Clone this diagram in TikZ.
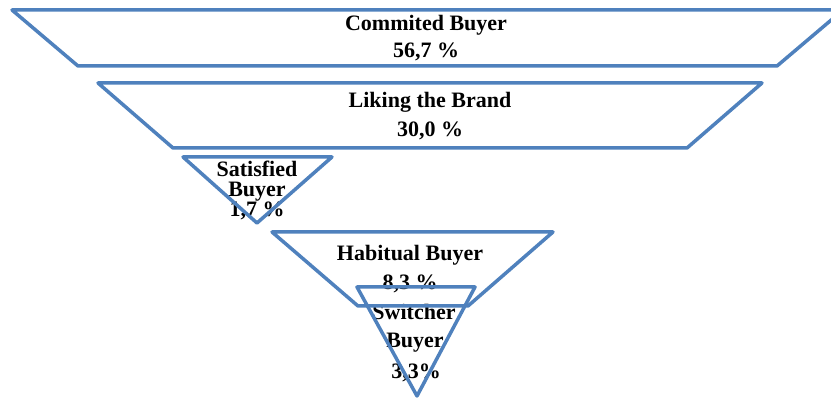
\documentclass[tikz,border=0pt]{standalone}
\usepackage{fontspec}
\setmainfont{Liberation Serif}
\definecolor{ob}{HTML}{4F81BD}
\begin{document}
\begin{tikzpicture}[x=1pt,y=-1pt,
  shp/.style={draw=ob, line width=3.5pt, line join=round},
  lbl/.style={font=\fontsize{22}{22}\selectfont\bfseries, anchor=base, inner sep=0pt}]
\useasboundingbox (0,0) rectangle (831,398);
\clip (0,0) rectangle (831,398);
% texts
\node[lbl] (t1a) at (426,31) {Commited Buyer};
\node[lbl] (t1b) at (426,58) {56,7 \%};
\node[lbl] (t2a) at (430,108) {Liking the Brand};
\node[lbl] (t2b) at (430,137) {30,0 \%};
\node[lbl] (t3a) at (257,177) {Satisfied};
\node[lbl] (t3b) at (257,197) {Buyer};
\node[lbl] (t3c) at (257,217) {1,7 \%};
\node[lbl] (t4a) at (410,261) {Habitual Buyer};
\node[lbl] (t4b) at (410,290) {8,3 \%};
\node[lbl] (t5a) at (414,320) {Switcher};
\node[lbl] (t5b) at (415,348) {Buyer};
\node[lbl] (t5c) at (416,378) {3,3\%};
% shapes
\draw[shp] (12,10) -- (843,10) -- (777,66) -- (78,66) -- cycle;
\draw[shp] (98,83) -- (762,83) -- (687,148) -- (173,148) -- cycle;
\draw[shp] (183,157) -- (332,157) -- (257,223) -- cycle;
\draw[shp] (272,232) -- (553,232) -- (468,306) -- (358,306) -- cycle;
\draw[shp] (357,287) -- (475,287) -- (417,396) -- cycle;
\end{tikzpicture}
\end{document}
